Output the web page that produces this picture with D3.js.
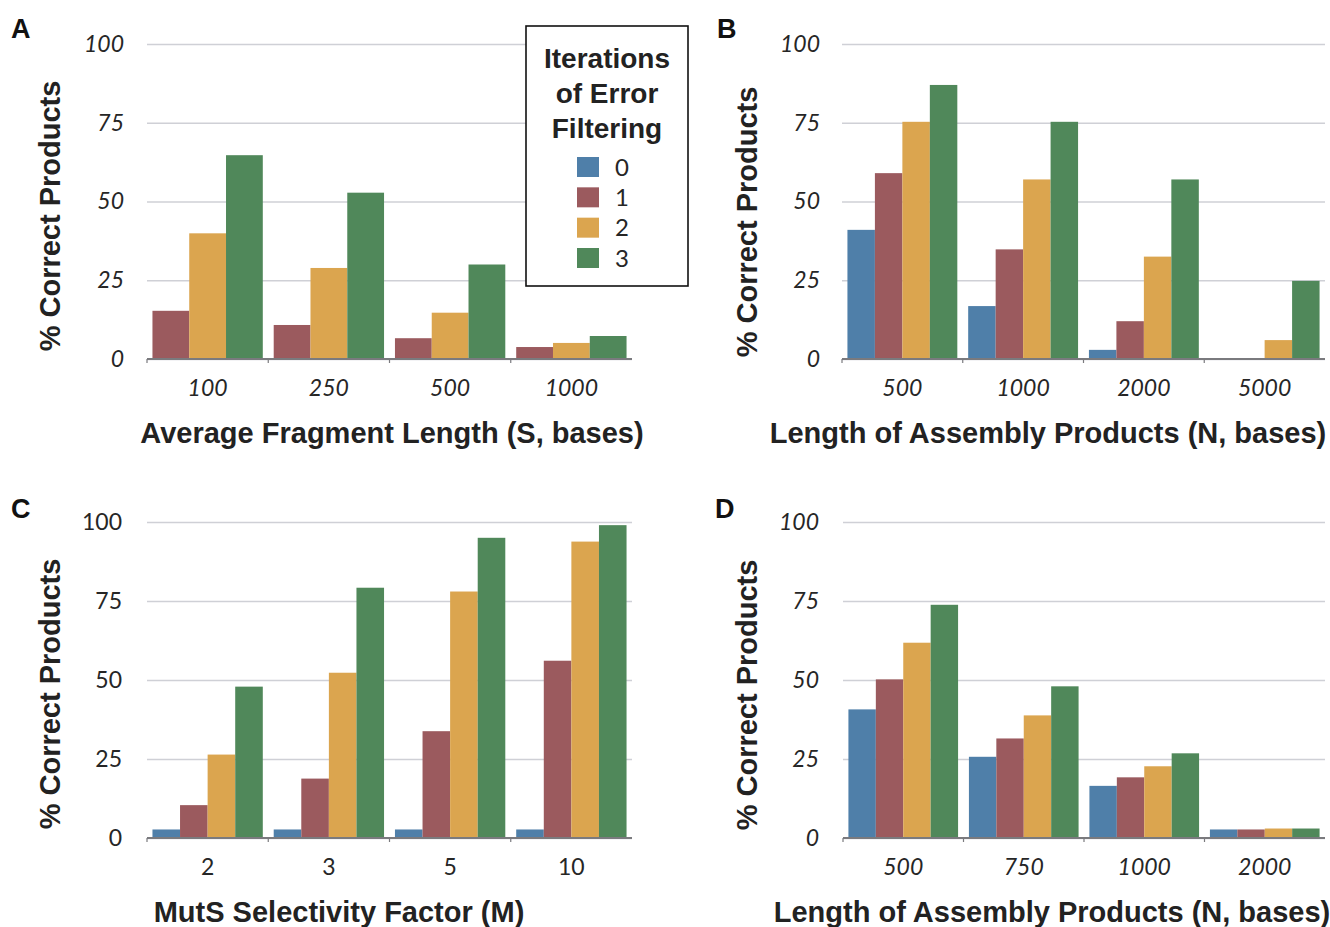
<!DOCTYPE html>
<html>
<head>
<meta charset="utf-8">
<script src="https://cdn.jsdelivr.net/npm/d3@7"></script>
<style>
  html, body { margin: 0; padding: 0; background: #ffffff; }
  svg { display: block; }
</style>
</head>
<body>
<svg id="chart" width="1330" height="927"></svg>
<script>
// ---------- DATA ----------
const seriesKeys = ["0", "1", "2", "3"];
const seriesColors = ["#4f7fa9", "#9b5a5e", "#dba54f", "#50885a"];
const yTicks = [0, 25, 50, 75, 100];

// Panel A – Average Fragment Length (S, bases)
const catsA = ["100", "250", "500", "1000"];
const seriesA = ["1", "2", "3"];
const A_iter1 = [15.3, 10.8, 6.6, 3.8];
const A_iter2 = [39.9, 28.9, 14.7, 5.1];
const A_iter3 = [64.7, 52.8, 30.0, 7.3];

// Panel B – Length of Assembly Products (N, bases)
const catsB = ["500", "1000", "2000", "5000"];
const B_iter0 = [41.0, 16.8, 2.9, 0.0];
const B_iter1 = [59.0, 34.8, 12.0, 0.3];
const B_iter2 = [75.3, 57.0, 32.5, 6.0];
const B_iter3 = [87.0, 75.3, 57.0, 24.8];

// Panel C – MutS Selectivity Factor (M)
const catsC = ["2", "3", "5", "10"];
const C_iter0 = [2.7, 2.7, 2.7, 2.7];
const C_iter1 = [10.4, 18.8, 33.8, 56.1];
const C_iter2 = [26.4, 52.3, 78.0, 93.8];
const C_iter3 = [47.9, 79.2, 95.0, 99.0];

// Panel D – Length of Assembly Products (N, bases)
const catsD = ["500", "750", "1000", "2000"];
const D_iter0 = [40.7, 25.7, 16.5, 2.7];
const D_iter1 = [50.2, 31.5, 19.2, 2.7];
const D_iter2 = [61.8, 38.8, 22.7, 3.0];
const D_iter3 = [73.8, 48.0, 26.8, 3.0];

const yLabel = "% Correct Products";
const legendTitle = ["Iterations", "of Error", "Filtering"];

// ---------- DRAW ----------
const svg = d3.select("#chart");
const colorOf = d3.scaleOrdinal().domain(seriesKeys).range(seriesColors);
const titleFont = "'Liberation Sans', Arial, Helvetica, sans-serif";
const tickFont = "Lato, 'Open Sans', sans-serif";

function buildRows(cats, keys, arrays) {
  return cats.map((c, i) => {
    const row = { cat: c };
    keys.forEach((k, j) => row[k] = arrays[j][i]);
    return row;
  });
}

function drawPanel(p) {
  const g = svg.append("g");
  const x0 = d3.scaleBand().domain(p.cats).range([p.left, p.right])
    .paddingInner(0.09).paddingOuter(0.045);
  const x1 = d3.scaleBand().domain(p.keys).range([0, x0.bandwidth()]).padding(0);
  const y = d3.scaleLinear().domain([0, 100]).range([p.bottom, p.top]);

  // gridlines + y tick labels
  const yAxis = d3.axisLeft(y).tickValues(yTicks)
    .tickSize(-(p.right - p.left)).tickPadding(p.tickPad).tickFormat(d3.format("d"));
  const ya = g.append("g").attr("transform", `translate(${p.left},0)`).call(yAxis);
  ya.select(".domain").remove();
  ya.selectAll(".tick line").attr("stroke", "#cfd0d6").attr("stroke-width", 1.6);
  ya.selectAll(".tick text")
    .attr("fill", "#262626")
    .style("font-family", tickFont)
    .style("font-style", p.italic ? "italic" : "normal")
    .style("font-size", "23px");

  // bars
  const rows = buildRows(p.cats, p.keys, p.arrays);
  g.append("g").selectAll("g").data(rows).join("g")
    .attr("transform", d => `translate(${x0(d.cat)},0)`)
    .selectAll("rect")
    .data(d => p.keys.map(k => ({ key: k, value: d[k] })))
    .join("rect")
    .attr("x", d => x1(d.key))
    .attr("width", x1.bandwidth())
    .attr("y", d => y(d.value))
    .attr("height", d => y(0) - y(d.value))
    .attr("fill", d => colorOf(d.key));

  // baseline
  g.append("line")
    .attr("x1", p.left).attr("x2", p.right)
    .attr("y1", y(0)).attr("y2", y(0))
    .attr("stroke", "#7a7a7e").attr("stroke-width", 2);
  // small boundary ticks on the baseline
  const step = x0.step();
  g.append("g").selectAll("line").data(d3.range(p.cats.length))
    .join("line")
    .attr("x1", i => p.left + i * step).attr("x2", i => p.left + i * step)
    .attr("y1", y(0)).attr("y2", y(0) + 4)
    .attr("stroke", "#7a7a7e").attr("stroke-width", 1.2);

  // x tick labels
  const xAxis = d3.axisBottom(x0).tickSize(0).tickPadding(p.xPad);
  const xa = g.append("g").attr("transform", `translate(0,${y(0)})`).call(xAxis);
  xa.select(".domain").remove();
  xa.selectAll(".tick text")
    .attr("fill", "#262626")
    .style("font-family", tickFont)
    .style("font-style", p.italic ? "italic" : "normal")
    .style("font-size", "23px");

  // x title
  g.append("text")
    .attr("x", p.titleX).attr("y", p.titleY)
    .attr("text-anchor", "middle")
    .style("font-family", titleFont).style("font-weight", "bold")
    .style("font-size", "29px").attr("fill", "#222")
    .text(p.title);

  // y title
  g.append("text")
    .attr("transform", `translate(${p.yLabX},${p.yLabY}) rotate(-90)`)
    .attr("text-anchor", "middle")
    .style("font-family", titleFont).style("font-weight", "bold")
    .style("font-size", "29px").attr("fill", "#222")
    .text(yLabel);

  // panel letter
  g.append("text")
    .attr("x", p.letterX).attr("y", p.letterY)
    .style("font-family", titleFont).style("font-weight", "bold")
    .style("font-size", "27px").attr("fill", "#111")
    .text(p.letter);
}

drawPanel({
  letter: "A", letterX: 11, letterY: 38,
  cats: catsA, keys: seriesA, arrays: [A_iter1, A_iter2, A_iter3],
  left: 147, right: 632, top: 44, bottom: 359, italic: true, tickPad: 23, xPad: 21,
  title: "Average Fragment Length (S, bases)", titleX: 392, titleY: 443,
  yLabX: 60, yLabY: 216
});
drawPanel({
  letter: "B", letterX: 717, letterY: 38,
  cats: catsB, keys: seriesKeys, arrays: [B_iter0, B_iter1, B_iter2, B_iter3],
  left: 842, right: 1325, top: 44, bottom: 359, italic: true, tickPad: 22, xPad: 21,
  title: "Length of Assembly Products (N, bases)", titleX: 1048, titleY: 443,
  yLabX: 757, yLabY: 222
});
drawPanel({
  letter: "C", letterX: 11, letterY: 518,
  cats: catsC, keys: seriesKeys, arrays: [C_iter0, C_iter1, C_iter2, C_iter3],
  left: 147, right: 632, top: 522, bottom: 838, italic: false, tickPad: 25, xPad: 21,
  title: "MutS Selectivity Factor (M)", titleX: 339, titleY: 922,
  yLabX: 60, yLabY: 694
});
drawPanel({
  letter: "D", letterX: 715, letterY: 518,
  cats: catsD, keys: seriesKeys, arrays: [D_iter0, D_iter1, D_iter2, D_iter3],
  left: 843, right: 1325, top: 522, bottom: 838, italic: true, tickPad: 24, xPad: 21,
  title: "Length of Assembly Products (N, bases)", titleX: 1052, titleY: 922,
  yLabX: 757, yLabY: 695
});

// ---------- LEGEND ----------
const lg = svg.append("g");
lg.append("rect")
  .attr("x", 526).attr("y", 26).attr("width", 162).attr("height", 260)
  .attr("fill", "#ffffff").attr("stroke", "#111").attr("stroke-width", 1.6);
lg.selectAll("text.lt").data(legendTitle).join("text")
  .attr("class", "lt")
  .attr("x", 607).attr("y", (d, i) => 68 + i * 35)
  .attr("text-anchor", "middle")
  .style("font-family", titleFont).style("font-weight", "bold")
  .style("font-size", "28px").attr("fill", "#222")
  .text(d => d);
const ly = d3.scalePoint().domain(seriesKeys).range([167, 258]);
lg.selectAll("rect.sw").data(seriesKeys).join("rect")
  .attr("class", "sw")
  .attr("x", 577).attr("y", d => ly(d) - 10)
  .attr("width", 22).attr("height", 20)
  .attr("fill", d => colorOf(d));
lg.selectAll("text.ll").data(seriesKeys).join("text")
  .attr("class", "ll")
  .attr("x", 615).attr("y", d => ly(d))
  .attr("dy", "0.36em")
  .style("font-family", tickFont).style("font-size", "24px")
  .attr("fill", "#262626")
  .text(d => d);
</script>
</body>
</html>
